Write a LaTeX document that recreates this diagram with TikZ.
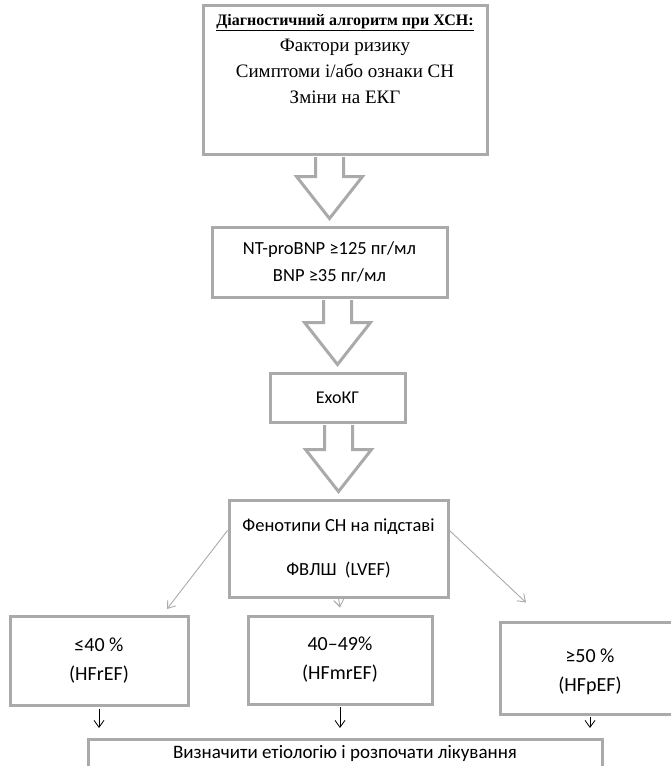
\documentclass[tikz,border=0pt]{standalone}
\usepackage{fontspec}
\setmainfont{Liberation Serif}
\newfontfamily\calibri{Carlito}
\usepackage{tikz}
\usetikzlibrary{arrows.meta,calc}
\definecolor{boxgray}{RGB}{170,170,170}
\newcommand{\fatarrow}[2]{%
  \draw[fat] let \p1=(#1.south), \p2=(#2.north) in
    (\x2-14pt,\y1-1.5pt) -- (\x2-14pt,\y2+49pt) -- (\x2-33pt,\y2+49pt) -- (\x2,\y2+7pt)
    -- (\x2+33pt,\y2+49pt) -- (\x2+14pt,\y2+49pt) -- (\x2+14pt,\y1-1.5pt);
}
\begin{document}
\begin{tikzpicture}[x=1pt,y=-1pt,
  box/.style={rectangle,draw=boxgray,line width=3pt,fill=white,inner sep=0pt,
              align=center,font=\calibri\fontsize{20}{29}\selectfont},
  fat/.style={draw=boxgray,line width=3pt,fill=white,line join=miter},
  thinarrow/.style={-{Straight Barb[length=7pt,width=10pt]},draw=boxgray,line width=0.9pt},
  downarrow/.style={-{Straight Barb[length=7pt,width=10pt]},draw=black,line width=0.8pt}
]
\useasboundingbox (0,0) rectangle (670,766);
% top box
\node[box,minimum width=284pt,minimum height=149pt] (diag) at (345,79.5) {};
\node[anchor=north,align=center,font=\fontsize{19}{26}\selectfont] (diagtxt) at ([yshift=-7pt]diag.north)
  {{\fontsize{16}{20}\selectfont\textbf{\underline{Діагностичний алгоритм при ХСН:}}}\\
   Фактори ризику\\Симптоми і/або ознаки СН\\Зміни на ЕКГ};
\node[box,minimum width=235pt,minimum height=70pt,font=\calibri\fontsize{18.5}{27}\selectfont] (bnp) at (329.5,262)
  {NT-proBNP ≥125 пг/мл\\BNP ≥35 пг/мл};
\node[box,minimum width=135pt,minimum height=49pt,font=\calibri\fontsize{18}{27}\selectfont] (echo) at (337.5,397.5) {ЕхоКГ};
\node[box,minimum width=219pt,minimum height=97pt,font=\calibri\fontsize{18.5}{27}\selectfont] (pheno) at (338.5,548.5)
  {Фенотипи СН на підставі\\[17pt]ФВЛШ~~(LVEF)};
% phenotypes
\node[box,minimum width=178pt,minimum height=89pt] (lowA) at (99,661)  {≤40 \%\\(HFrEF)};
\node[box,minimum width=184pt,minimum height=88pt] (lowB) at (340,660) {40–49\%\\(HFmrEF)};
\node[box,minimum width=180pt,minimum height=92pt] (lowC) at (590,668) {\rule{0pt}{22pt}≥50 \%\\(HFpEF)};
\node[box,anchor=north,minimum width=514pt,text depth=50pt,inner ysep=6pt,font=\calibri\fontsize{19}{27}\selectfont] (cause) at (345,738)
  {Визначити етіологію і розпочати лікування};

\fatarrow{diag}{bnp}
\fatarrow{bnp}{echo}
\fatarrow{echo}{pheno}

\draw[thinarrow] ([yshift=18pt]pheno.west) -- ([shift={(68pt,6pt)}]lowA.north);
\draw[thinarrow] (pheno.south) -- ([yshift=7pt]lowB.north);
\draw[thinarrow] ([yshift=18pt]pheno.east) -- ([shift={(-64pt,18pt)}]lowC.north);

\draw[downarrow] ([yshift=-1.5pt]lowA.south) -- ([yshift=10pt]lowA.south |- cause.north);
\draw[downarrow] ([yshift=-1.5pt]lowB.south) -- ([yshift=10pt]lowB.south |- cause.north);
\draw[downarrow] ([yshift=-1.5pt]lowC.south) -- ([yshift=10pt]lowC.south |- cause.north);
\end{tikzpicture}
\end{document}
